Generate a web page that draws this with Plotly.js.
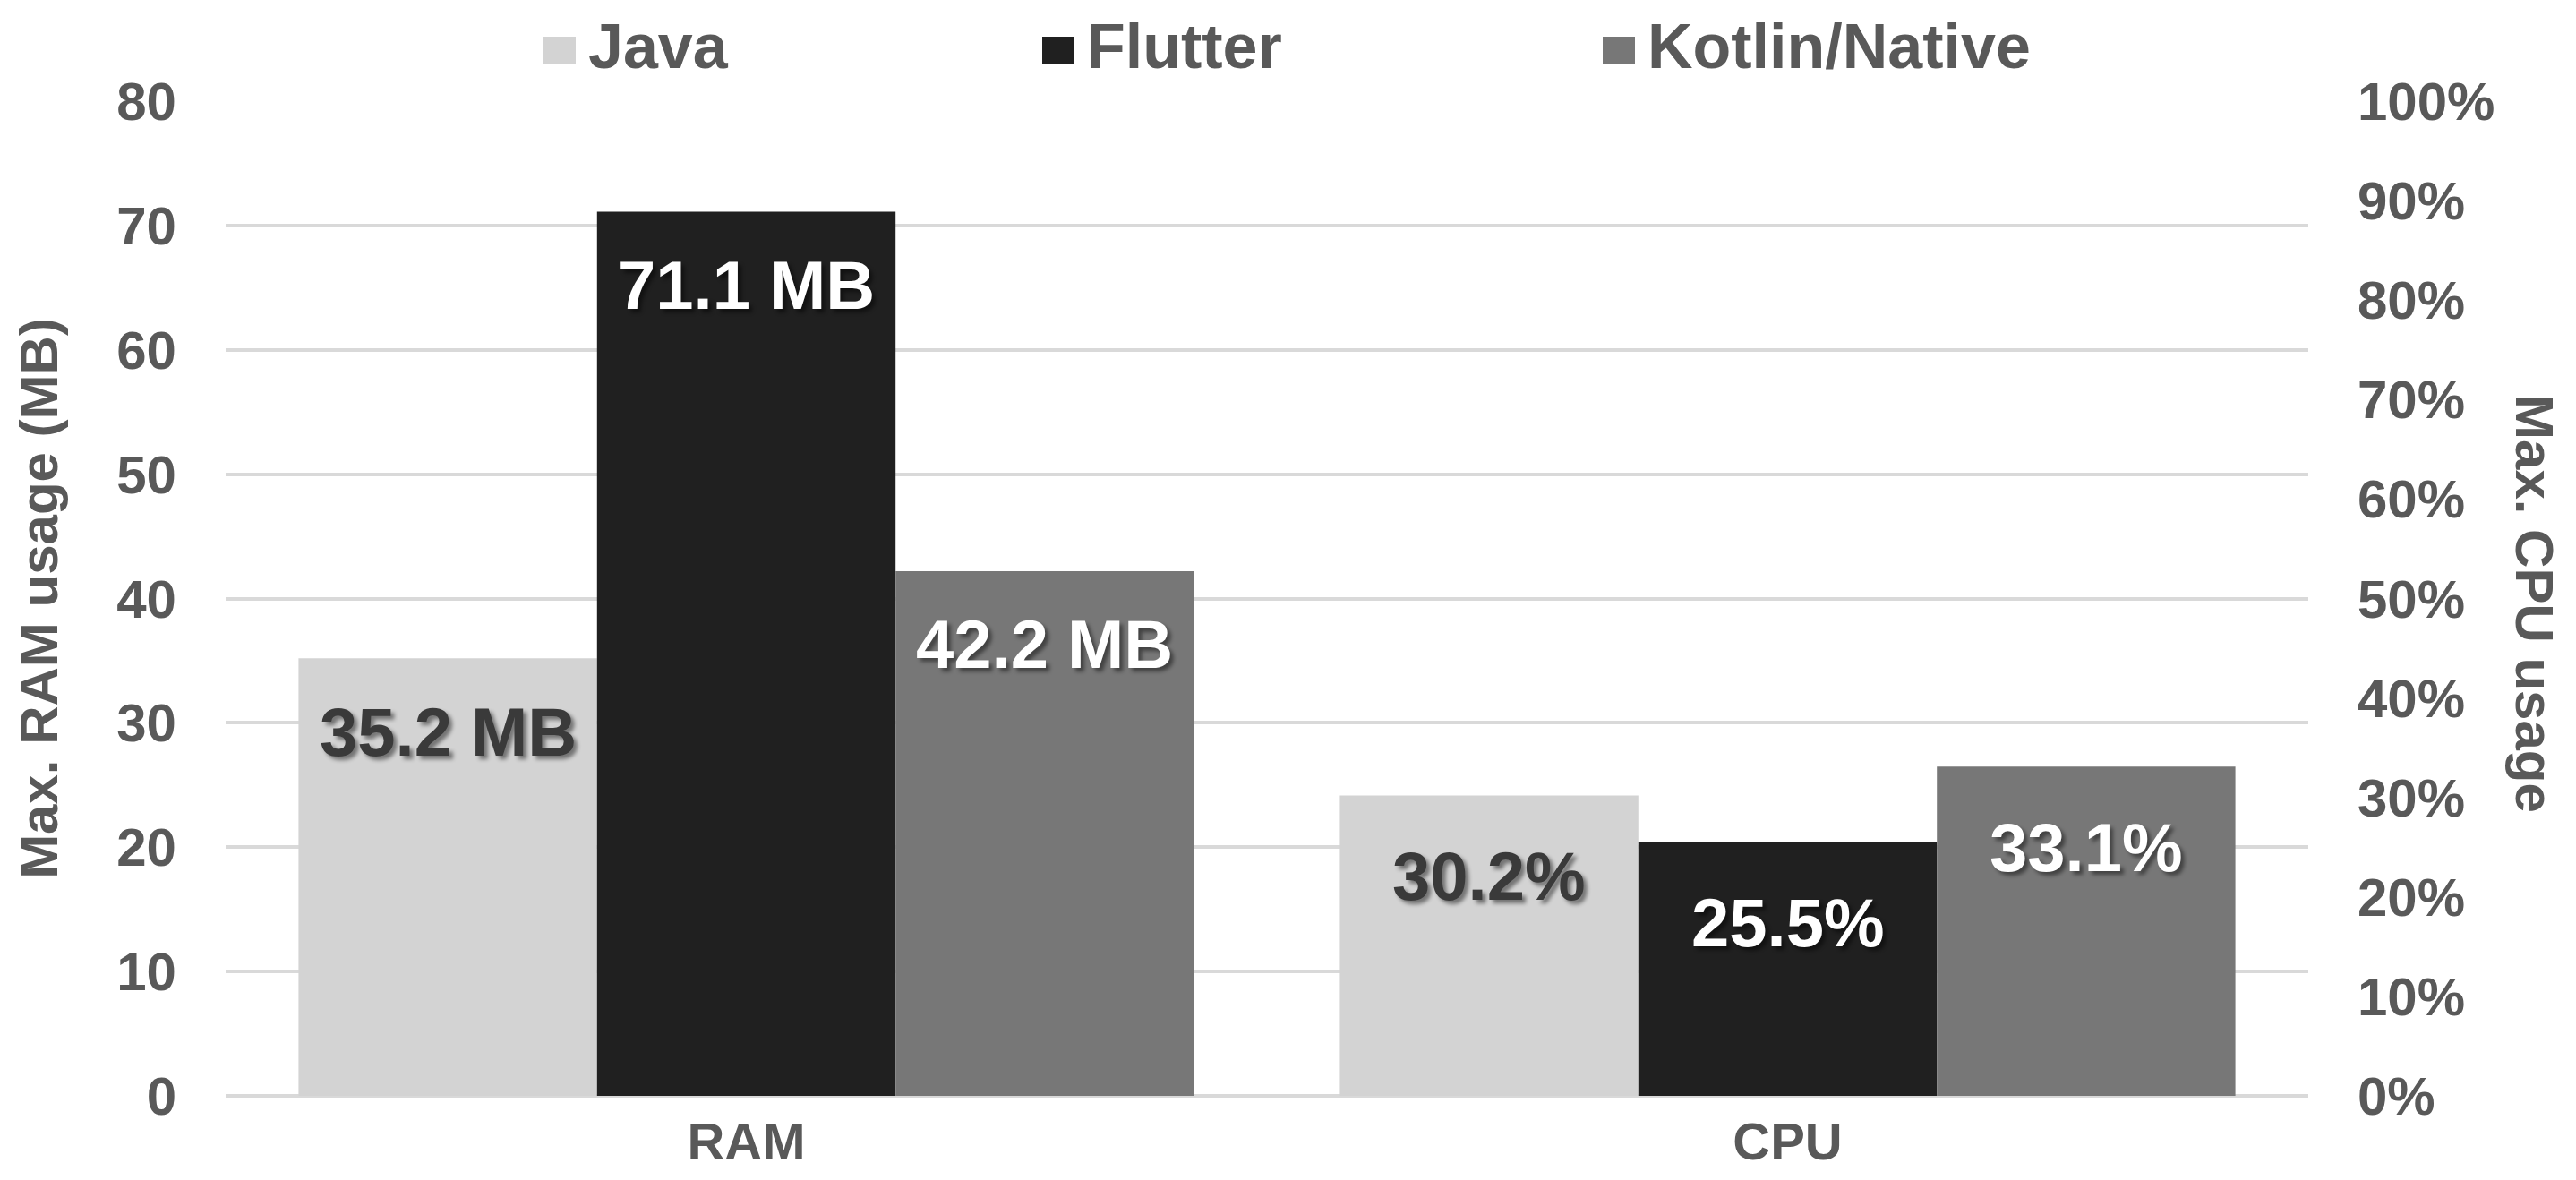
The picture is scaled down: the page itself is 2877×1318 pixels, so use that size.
<!DOCTYPE html>
<html>
<head>
<meta charset="utf-8">
<script src="https://cdn.plot.ly/plotly-3.0.1.min.js"></script>
<style>
  html, body { margin: 0; padding: 0; background: #ffffff; }
  #chart { width: 2877px; height: 1318px; }
</style>
</head>
<body>
<div id="chart"></div>
<script>
// ---------------- data ----------------
const categories = ['RAM', 'CPU'];
const seriesNames = ['Java', 'Flutter', 'Kotlin/Native'];
const ramValues = [35.2, 71.1, 42.2];     // Max. RAM usage (MB)
const cpuValues = [30.2, 25.5, 33.1];     // Max. CPU usage (%)
const ramTickVals = [0, 10, 20, 30, 40, 50, 60, 70, 80];
const cpuTickVals = [0, 10, 20, 30, 40, 50, 60, 70, 80, 90, 100];
const cpuTickText = ['0%', '10%', '20%', '30%', '40%', '50%', '60%', '70%', '80%', '90%', '100%'];
const leftTitle = 'Max. RAM usage (MB)';
const rightTitle = 'Max. CPU usage';

// ---------------- style ----------------
const W = 2877, H = 1318;
const M = { l: 252, r: 299, t: 113, b: 94 };
const PW = W - M.l - M.r, PH = H - M.t - M.b;
const FAMILY = 'Liberation Sans, Arial, sans-serif';
const TXT = '#595959';
const seriesColors = ['#d3d3d3', '#202020', '#777777'];
const labelColors = ['#3a3a3a', '#ffffff', '#ffffff'];
const BARGAP = 0.14;
const legendLeftPx = [607, 1164, 1790];
const legendMidPy = 55;

const px2x = px => (px - M.l) / PW;
const py2y = py => (M.t + PH - py) / PH;

// ---------------- traces ----------------
const data = [];
seriesNames.forEach((name, i) => {
  data.push({
    type: 'bar', name: name, x: categories, y: [ramValues[i], null],
    yaxis: 'y', marker: { color: seriesColors[i] }, showlegend: false
  });
});
seriesNames.forEach((name, i) => {
  data.push({
    type: 'bar', name: name, x: categories, y: [null, cpuValues[i]],
    yaxis: 'y2', marker: { color: seriesColors[i] }, showlegend: false
  });
});

// ---------------- annotations (value labels, legend, right title) ----------------
const annotations = [];
const shapes = [];
const barW = (1 - BARGAP) / seriesNames.length;
const shadow = '4px 4px 4px rgba(0,0,0,0.45)';

seriesNames.forEach((name, i) => {
  const off = (i - (seriesNames.length - 1) / 2) * barW;
  annotations.push({
    xref: 'x', yref: 'y', x: 0 + off, y: ramValues[i],
    text: ramValues[i].toFixed(1) + ' MB', showarrow: false,
    xanchor: 'center', yanchor: 'middle', yshift: -82,
    font: { family: FAMILY, size: 76, color: labelColors[i], weight: 'bold', shadow: shadow }
  });
  annotations.push({
    xref: 'x', yref: 'y2', x: 1 + off, y: cpuValues[i],
    text: cpuValues[i].toFixed(1) + '%', showarrow: false,
    xanchor: 'center', yanchor: 'middle', yshift: -90,
    font: { family: FAMILY, size: 76, color: labelColors[i], weight: 'bold', shadow: shadow }
  });
  // legend
  const lx = legendLeftPx[i];
  shapes.push({
    type: 'rect', xref: 'paper', yref: 'paper',
    x0: px2x(lx), x1: px2x(lx + 36), y0: py2y(legendMidPy - 14), y1: py2y(legendMidPy + 17),
    fillcolor: seriesColors[i], line: { width: 0 }
  });
  annotations.push({
    xref: 'paper', yref: 'paper', x: px2x(lx + 48), y: py2y(legendMidPy - 3),
    text: name, showarrow: false, xanchor: 'left', yanchor: 'middle',
    font: { family: FAMILY, size: 70, color: TXT, weight: 'bold' }
  });
});

annotations.push({
  xref: 'paper', yref: 'paper', x: px2x(2831), y: 0.495,
  text: rightTitle, showarrow: false, textangle: 90,
  xanchor: 'center', yanchor: 'middle',
  font: { family: FAMILY, size: 60, color: TXT, weight: 'bold' }
});

const tickFont = { family: FAMILY, size: 60, color: TXT, weight: 'bold' };

const layout = {
  width: W, height: H,
  margin: M,
  paper_bgcolor: '#ffffff', plot_bgcolor: '#ffffff',
  barmode: 'group', bargap: BARGAP, bargroupgap: 0,
  showlegend: false,
  font: { family: FAMILY, color: TXT },
  xaxis: {
    type: 'category', categoryorder: 'array', categoryarray: categories,
    range: [-0.5, 1.5], showgrid: false, zeroline: false, showline: false,
    ticks: '', ticklabelstandoff: 12,
    tickfont: { family: FAMILY, size: 58, color: TXT, weight: 'bold' }
  },
  yaxis: {
    range: [0, 80], tickmode: 'array', tickvals: ramTickVals,
    showgrid: true, gridcolor: '#d9d9d9', gridwidth: 4,
    zeroline: true, zerolinecolor: '#d9d9d9', zerolinewidth: 4,
    showline: false, ticks: '', ticklabelstandoff: 54,
    tickfont: tickFont,
    title: { text: leftTitle, font: { family: FAMILY, size: 60, color: TXT, weight: 'bold' }, standoff: 46 }
  },
  yaxis2: {
    overlaying: 'y', side: 'right', range: [0, 100],
    tickmode: 'array', tickvals: cpuTickVals, ticktext: cpuTickText,
    showgrid: false, zeroline: false, showline: false, ticks: '', ticklabelstandoff: 54,
    tickfont: tickFont
  },
  shapes: shapes,
  annotations: annotations
};

Plotly.newPlot('chart', data, layout, { staticPlot: true, displayModeBar: false });
</script>
</body>
</html>
